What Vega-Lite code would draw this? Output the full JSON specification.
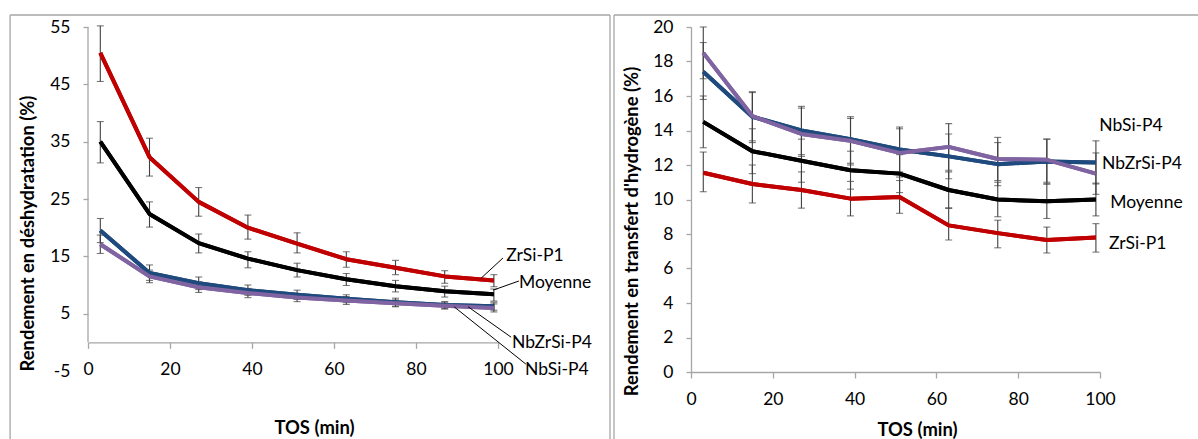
{
  "$schema": "https://vega.github.io/schema/vega-lite/v6.json",
  "autosize": {"type": "pad"},
  "padding": {"left": 9, "top": 14, "right": 0, "bottom": 0},
  "background": "white",
  "spacing": 2,
  "config": {
    "view": {"stroke": null},
    "font": "Lato",
    "axis": {
      "grid": false,
      "labelOverlap": false,
      "labelFlush": false,
      "domainColor": "#A6A6A6",
      "domainWidth": 1.3,
      "tickColor": "#A6A6A6",
      "tickWidth": 1.3,
      "labelFont": "Lato",
      "labelFontSize": 17.5,
      "labelColor": "#000000",
      "titleFont": "Lato",
      "titleFontSize": 18.4,
      "titleFontWeight": "bold",
      "titleColor": "#000000"
    }
  },
  "datasets": {
    "left": [
      {"TOS": 3, "serie": "ZrSi-P1", "value": 50.5, "lo": 45.5, "hi": 55.2},
      {"TOS": 15, "serie": "ZrSi-P1", "value": 32.3, "lo": 29.0, "hi": 35.6},
      {"TOS": 27, "serie": "ZrSi-P1", "value": 24.5, "lo": 22.0, "hi": 27.0},
      {"TOS": 39, "serie": "ZrSi-P1", "value": 20.0, "lo": 18.0, "hi": 22.2},
      {"TOS": 51, "serie": "ZrSi-P1", "value": 17.2, "lo": 15.6, "hi": 19.1},
      {"TOS": 63, "serie": "ZrSi-P1", "value": 14.5, "lo": 13.1, "hi": 15.8},
      {"TOS": 75, "serie": "ZrSi-P1", "value": 13.0, "lo": 11.8, "hi": 14.3},
      {"TOS": 87, "serie": "ZrSi-P1", "value": 11.5, "lo": 10.3, "hi": 12.5},
      {"TOS": 99, "serie": "ZrSi-P1", "value": 10.8, "lo": 9.7, "hi": 11.8},
      {"TOS": 3, "serie": "Moyenne", "value": 35.0, "lo": 31.3, "hi": 38.5},
      {"TOS": 15, "serie": "Moyenne", "value": 22.4, "lo": 20.1, "hi": 24.5},
      {"TOS": 27, "serie": "Moyenne", "value": 17.3, "lo": 15.6, "hi": 18.9},
      {"TOS": 39, "serie": "Moyenne", "value": 14.6, "lo": 13.0, "hi": 15.8},
      {"TOS": 51, "serie": "Moyenne", "value": 12.6, "lo": 11.4, "hi": 13.8},
      {"TOS": 63, "serie": "Moyenne", "value": 11.0, "lo": 9.9, "hi": 12.0},
      {"TOS": 75, "serie": "Moyenne", "value": 9.8, "lo": 8.8, "hi": 10.8},
      {"TOS": 87, "serie": "Moyenne", "value": 8.9, "lo": 7.9, "hi": 9.8},
      {"TOS": 99, "serie": "Moyenne", "value": 8.4, "lo": 7.2, "hi": 9.3},
      {"TOS": 3, "serie": "NbZrSi-P4", "value": 19.5, "lo": 17.4, "hi": 21.6},
      {"TOS": 15, "serie": "NbZrSi-P4", "value": 12.1, "lo": 10.8, "hi": 13.5},
      {"TOS": 27, "serie": "NbZrSi-P4", "value": 10.3, "lo": 9.2, "hi": 11.4},
      {"TOS": 39, "serie": "NbZrSi-P4", "value": 9.1, "lo": 8.2, "hi": 10.0},
      {"TOS": 51, "serie": "NbZrSi-P4", "value": 8.3, "lo": 7.5, "hi": 9.1},
      {"TOS": 63, "serie": "NbZrSi-P4", "value": 7.6, "lo": 6.9, "hi": 8.3},
      {"TOS": 75, "serie": "NbZrSi-P4", "value": 7.0, "lo": 6.3, "hi": 7.7},
      {"TOS": 87, "serie": "NbZrSi-P4", "value": 6.5, "lo": 5.9, "hi": 7.1},
      {"TOS": 99, "serie": "NbZrSi-P4", "value": 6.3, "lo": 5.6, "hi": 7.0},
      {"TOS": 3, "serie": "NbSi-P4", "value": 17.1, "lo": 15.5, "hi": 18.7},
      {"TOS": 15, "serie": "NbSi-P4", "value": 11.5, "lo": 10.4, "hi": 12.6},
      {"TOS": 27, "serie": "NbSi-P4", "value": 9.6, "lo": 8.7, "hi": 10.5},
      {"TOS": 39, "serie": "NbSi-P4", "value": 8.6, "lo": 7.8, "hi": 9.4},
      {"TOS": 51, "serie": "NbSi-P4", "value": 7.8, "lo": 7.1, "hi": 8.5},
      {"TOS": 63, "serie": "NbSi-P4", "value": 7.3, "lo": 6.6, "hi": 8.0},
      {"TOS": 75, "serie": "NbSi-P4", "value": 6.8, "lo": 6.2, "hi": 7.4},
      {"TOS": 87, "serie": "NbSi-P4", "value": 6.4, "lo": 5.8, "hi": 7.0},
      {"TOS": 99, "serie": "NbSi-P4", "value": 6.0, "lo": 5.3, "hi": 6.7}
    ],
    "right": [
      {"TOS": 3, "serie": "ZrSi-P1", "value": 11.55, "lo": 10.45, "hi": 12.75},
      {"TOS": 15, "serie": "ZrSi-P1", "value": 10.9, "lo": 9.8, "hi": 12.0},
      {"TOS": 27, "serie": "ZrSi-P1", "value": 10.55, "lo": 9.5, "hi": 11.6},
      {"TOS": 39, "serie": "ZrSi-P1", "value": 10.05, "lo": 9.05, "hi": 11.05},
      {"TOS": 51, "serie": "ZrSi-P1", "value": 10.15, "lo": 9.2, "hi": 11.1},
      {"TOS": 63, "serie": "ZrSi-P1", "value": 8.5, "lo": 7.65, "hi": 9.5},
      {"TOS": 75, "serie": "ZrSi-P1", "value": 8.05, "lo": 7.2, "hi": 8.8},
      {"TOS": 87, "serie": "ZrSi-P1", "value": 7.65, "lo": 6.9, "hi": 8.4},
      {"TOS": 99, "serie": "ZrSi-P1", "value": 7.8, "lo": 6.95, "hi": 8.6},
      {"TOS": 3, "serie": "Moyenne", "value": 14.5, "lo": 13.0, "hi": 16.0},
      {"TOS": 15, "serie": "Moyenne", "value": 12.8, "lo": 11.5, "hi": 14.1},
      {"TOS": 27, "serie": "Moyenne", "value": 12.25, "lo": 11.0, "hi": 13.5},
      {"TOS": 39, "serie": "Moyenne", "value": 11.7, "lo": 10.6, "hi": 12.8},
      {"TOS": 51, "serie": "Moyenne", "value": 11.5, "lo": 10.4, "hi": 12.6},
      {"TOS": 63, "serie": "Moyenne", "value": 10.55, "lo": 9.5, "hi": 11.6},
      {"TOS": 75, "serie": "Moyenne", "value": 10.0, "lo": 9.0, "hi": 11.0},
      {"TOS": 87, "serie": "Moyenne", "value": 9.9, "lo": 8.9, "hi": 10.9},
      {"TOS": 99, "serie": "Moyenne", "value": 10.0, "lo": 9.05, "hi": 10.95},
      {"TOS": 3, "serie": "NbZrSi-P4", "value": 17.4, "lo": 15.8, "hi": 19.1},
      {"TOS": 15, "serie": "NbZrSi-P4", "value": 14.8, "lo": 13.3, "hi": 16.25},
      {"TOS": 27, "serie": "NbZrSi-P4", "value": 14.0, "lo": 12.6, "hi": 15.4},
      {"TOS": 39, "serie": "NbZrSi-P4", "value": 13.5, "lo": 12.1, "hi": 14.8},
      {"TOS": 51, "serie": "NbZrSi-P4", "value": 12.9, "lo": 11.6, "hi": 14.2},
      {"TOS": 63, "serie": "NbZrSi-P4", "value": 12.5, "lo": 11.2, "hi": 13.8},
      {"TOS": 75, "serie": "NbZrSi-P4", "value": 12.05, "lo": 10.8, "hi": 13.3},
      {"TOS": 87, "serie": "NbZrSi-P4", "value": 12.2, "lo": 10.9, "hi": 13.5},
      {"TOS": 99, "serie": "NbZrSi-P4", "value": 12.15, "lo": 10.9, "hi": 13.4},
      {"TOS": 3, "serie": "NbSi-P4", "value": 18.5, "lo": 17.0, "hi": 20.0},
      {"TOS": 15, "serie": "NbSi-P4", "value": 14.84, "lo": 13.4, "hi": 16.2},
      {"TOS": 27, "serie": "NbSi-P4", "value": 13.8, "lo": 12.5, "hi": 15.3},
      {"TOS": 39, "serie": "NbSi-P4", "value": 13.4, "lo": 12.0, "hi": 14.7},
      {"TOS": 51, "serie": "NbSi-P4", "value": 12.7, "lo": 11.3, "hi": 14.1},
      {"TOS": 63, "serie": "NbSi-P4", "value": 13.05, "lo": 11.7, "hi": 14.4},
      {"TOS": 75, "serie": "NbSi-P4", "value": 12.35, "lo": 11.1, "hi": 13.6},
      {"TOS": 87, "serie": "NbSi-P4", "value": 12.3, "lo": 11.0, "hi": 13.5},
      {"TOS": 99, "serie": "NbSi-P4", "value": 11.5, "lo": 10.3, "hi": 12.7}
    ],
    "leftLabels": [
      {"serie": "ZrSi-P1", "px": 95.9, "py": 11.2, "lx": 101.2, "ly": 14.7, "tx": 102.0, "ty": 15.1},
      {"serie": "Moyenne", "px": 98.8, "py": 9.1, "lx": 105.1, "ly": 10.7, "tx": 105.1, "ty": 10.4},
      {"serie": "NbZrSi-P4", "px": 92.7, "py": 6.2, "lx": 103.2, "ly": 0.9, "tx": 103.4, "ty": -0.1},
      {"serie": "NbSi-P4", "px": 89.3, "py": 6.2, "lx": 106.8, "ly": -3.8, "tx": 106.6, "ty": -4.8}
    ],
    "rightLabels": [
      {"serie": "NbSi-P4", "tx": 99.8, "ty": 14.26},
      {"serie": "NbZrSi-P4", "tx": 100.5, "ty": 12.05},
      {"serie": "Moyenne", "tx": 102.5, "ty": 9.8},
      {"serie": "ZrSi-P1", "tx": 102.2, "ty": 7.4}
    ]
  },
  "hconcat": [
    {
      "width": 410,
      "height": 344,
      "layer": [
        {
          "data": {"name": "left"},
          "mark": {"type": "line", "strokeWidth": 4, "strokeJoin": "round"},
          "encoding": {
            "x": {
              "field": "TOS", "type": "quantitative", "title": "TOS (min)",
              "scale": {"domain": [0, 100], "nice": false, "zero": false},
              "axis": {
                "values": [0, 20, 40, 60, 80, 100], "offset": -28.67, "labelOverlap": false, "labelFlush": false,
                "tickSize": 6, "labelPadding": 12, "titleX": 226, "titleY": 85, "titleBaseline": "middle", "titleAlign": "center"
              }
            },
            "y": {
              "field": "value", "type": "quantitative", "title": "Rendement en déshydratation (%)",
              "scale": {"domain": [-5, 55], "nice": false, "zero": false},
              "axis": {
                "values": [-5, 5, 15, 25, 35, 45, 55], "labelOverlap": false, "labelFlush": false,
                "labelExpr": "datum.value < 0 ? '-' + abs(datum.value) : datum.label",
                "domain": false, "tickSize": 5, "labelPadding": 13,
                "tickOpacity": {"condition": {"test": "datum.value < 0", "value": 0}, "value": 1},
                "titleX": -61, "titleY": 206, "titleBaseline": "middle", "titleAlign": "center"
              }
            },
            "color": {
              "field": "serie", "type": "nominal",
              "scale": {"domain": ["ZrSi-P1", "Moyenne", "NbZrSi-P4", "NbSi-P4"], "range": ["#C00000", "#000000", "#1F4A7E", "#8064A2"]},
              "legend": null
            },
            "order": {"field": "TOS", "type": "quantitative"}
          }
        },
        {
          "data": {"values": [{}]},
          "mark": {"type": "rule", "color": "#A6A6A6", "strokeWidth": 1.3},
          "encoding": {
            "x": {"datum": -19.0, "type": "quantitative"},
            "x2": {"datum": 127.32},
            "y": {"datum": 57.09, "type": "quantitative"}
          }
        },
        {
          "data": {"values": [{}]},
          "mark": {"type": "rule", "color": "#A6A6A6", "strokeWidth": 1.3},
          "encoding": {
            "x": {"datum": -19.0, "type": "quantitative"},
            "y": {"datum": 57.09, "type": "quantitative"},
            "y2": {"datum": -18.3}
          }
        },
        {
          "data": {"values": [{}]},
          "mark": {"type": "rule", "color": "#A6A6A6", "strokeWidth": 1.3},
          "encoding": {
            "x": {"datum": 127.32, "type": "quantitative"},
            "y": {"datum": 57.09, "type": "quantitative"},
            "y2": {"datum": -18.3}
          }
        },
        {
          "data": {"values": [{}]},
          "mark": {"type": "rule", "color": "#A6A6A6", "strokeWidth": 1.3},
          "encoding": {
            "x": {"datum": 0, "type": "quantitative"},
            "y": {"datum": 0, "type": "quantitative"},
            "y2": {"datum": 55}
          }
        },
        {
          "data": {"name": "left"},
          "mark": {"type": "errorbar", "color": "#404040", "thickness": 1.1, "ticks": {"size": 7, "color": "#404040", "thickness": 1.1}},
          "encoding": {
            "x": {"field": "TOS", "type": "quantitative", "title": "TOS (min)"},
            "y": {"field": "lo", "type": "quantitative", "title": "Rendement en déshydratation (%)"},
            "y2": {"field": "hi"},
            "detail": {"field": "serie"}
          }
        },
        {
          "data": {"name": "left"},
          "mark": {"type": "line", "strokeWidth": 4, "strokeJoin": "round"},
          "encoding": {
            "x": {"field": "TOS", "type": "quantitative", "title": "TOS (min)"},
            "y": {"field": "value", "type": "quantitative", "title": "Rendement en déshydratation (%)"},
            "color": {"field": "serie", "type": "nominal", "legend": null},
            "order": {"field": "TOS", "type": "quantitative"}
          }
        },
        {
          "data": {"name": "leftLabels"},
          "mark": {"type": "rule", "color": "#000000", "strokeWidth": 1},
          "encoding": {
            "x": {"field": "px", "type": "quantitative", "title": "TOS (min)"},
            "y": {"field": "py", "type": "quantitative", "title": "Rendement en déshydratation (%)"},
            "x2": {"field": "lx"},
            "y2": {"field": "ly"}
          }
        },
        {
          "data": {"name": "leftLabels"},
          "mark": {"type": "text", "align": "left", "baseline": "middle", "font": "Lato", "fontSize": 17.5, "color": "#000000"},
          "encoding": {
            "x": {"field": "tx", "type": "quantitative", "title": "TOS (min)"},
            "y": {"field": "ty", "type": "quantitative", "title": "Rendement en déshydratation (%)"},
            "text": {"field": "serie"}
          }
        }
      ]
    },
    {
      "width": 409,
      "height": 345,
      "layer": [
        {
          "data": {"name": "right"},
          "mark": {"type": "line", "strokeWidth": 4, "strokeJoin": "round"},
          "encoding": {
            "x": {
              "field": "TOS", "type": "quantitative", "title": "TOS (min)",
              "scale": {"domain": [0, 100], "nice": false, "zero": false},
              "axis": {
                "values": [0, 20, 40, 60, 80, 100], "labelOverlap": false, "labelFlush": false,
                "tickSize": 6, "labelPadding": 12, "titleX": 226, "titleY": 57, "titleBaseline": "middle", "titleAlign": "center"
              }
            },
            "y": {
              "field": "value", "type": "quantitative", "title": "Rendement en transfert d'hydrogène (%)",
              "scale": {"domain": [0, 20], "nice": false, "zero": false},
              "axis": {
                "values": [0, 2, 4, 6, 8, 10, 12, 14, 16, 18, 20], "tickCount": 11, "labelOverlap": false, "labelFlush": false,
                "tickSize": 5, "labelPadding": 13,
                "titleX": -60, "titleY": 204, "titleBaseline": "middle", "titleAlign": "center"
              }
            },
            "color": {
              "field": "serie", "type": "nominal",
              "scale": {"domain": ["ZrSi-P1", "Moyenne", "NbZrSi-P4", "NbSi-P4"], "range": ["#C00000", "#000000", "#1F4A7E", "#8064A2"]},
              "legend": null
            },
            "order": {"field": "TOS", "type": "quantitative"}
          }
        },
        {
          "data": {"values": [{}]},
          "mark": {"type": "rule", "color": "#A6A6A6", "strokeWidth": 1.3},
          "encoding": {
            "x": {"datum": -18.83, "type": "quantitative"},
            "x2": {"datum": 124.7},
            "y": {"datum": 20.696, "type": "quantitative"}
          }
        },
        {
          "data": {"values": [{}]},
          "mark": {"type": "rule", "color": "#A6A6A6", "strokeWidth": 1.3},
          "encoding": {
            "x": {"datum": -18.83, "type": "quantitative"},
            "y": {"datum": 20.696, "type": "quantitative"},
            "y2": {"datum": -4.3}
          }
        },
        {
          "data": {"name": "right"},
          "mark": {"type": "errorbar", "color": "#404040", "thickness": 1.1, "ticks": {"size": 7, "color": "#404040", "thickness": 1.1}},
          "encoding": {
            "x": {"field": "TOS", "type": "quantitative", "title": "TOS (min)"},
            "y": {"field": "lo", "type": "quantitative", "title": "Rendement en transfert d'hydrogène (%)"},
            "y2": {"field": "hi"},
            "detail": {"field": "serie"}
          }
        },
        {
          "data": {"name": "right"},
          "mark": {"type": "line", "strokeWidth": 4, "strokeJoin": "round"},
          "encoding": {
            "x": {"field": "TOS", "type": "quantitative", "title": "TOS (min)"},
            "y": {"field": "value", "type": "quantitative", "title": "Rendement en transfert d'hydrogène (%)"},
            "color": {"field": "serie", "type": "nominal", "legend": null},
            "order": {"field": "TOS", "type": "quantitative"}
          }
        },
        {
          "data": {"name": "rightLabels"},
          "mark": {"type": "text", "align": "left", "baseline": "middle", "font": "Lato", "fontSize": 17.5, "color": "#000000"},
          "encoding": {
            "x": {"field": "tx", "type": "quantitative", "title": "TOS (min)"},
            "y": {"field": "ty", "type": "quantitative", "title": "Rendement en transfert d'hydrogène (%)"},
            "text": {"field": "serie"}
          }
        }
      ]
    }
  ]
}
